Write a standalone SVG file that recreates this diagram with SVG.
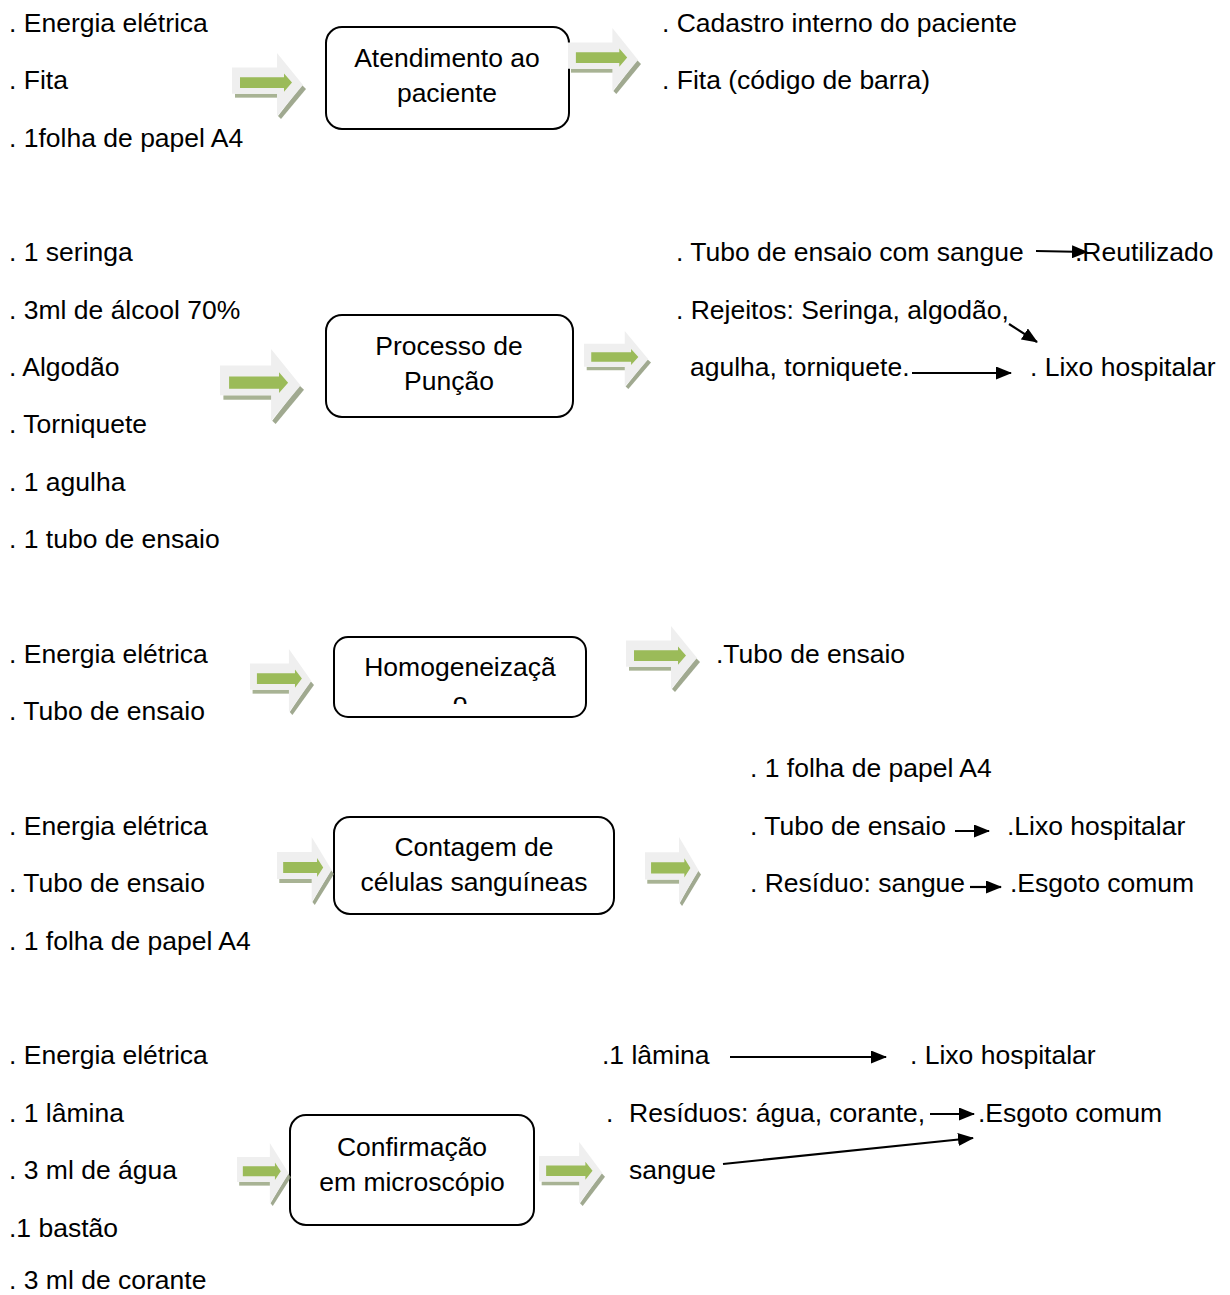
<svg xmlns="http://www.w3.org/2000/svg" xmlns:xlink="http://www.w3.org/1999/xlink" width="1230" height="1295" viewBox="0 0 1230 1295">
  <style>
    text { font-family: "Liberation Sans", Arial, sans-serif; font-size: 26.5px; fill: #000; }
    .mid { text-anchor: middle; }
    .box { fill: #fff; stroke: #000; stroke-width: 2; }
    .link { stroke: #000; stroke-width: 2.2; fill: none; marker-end: url(#head); }
  </style>
  <defs>
    <marker id="head" viewBox="0 0 16 13" refX="15" refY="6.5" markerWidth="16" markerHeight="13" markerUnits="userSpaceOnUse" orient="auto">
      <path d="M0,0 L16,6.5 L0,13 z" fill="#000"/>
    </marker>
    <!-- decorative block arrow: pale body, green core, soft shadow -->
    <symbol id="barrow" viewBox="0 0 74 68" preserveAspectRatio="none">
      <polygon points="70,33 74,37 49,68 46,65" fill="#8f9a7c" opacity="0.85"/>
      <rect x="3" y="42" width="44" height="4" fill="#a8b394"/>
      <polygon points="0,15 45,15 45,0 71,33 45,65 45,42 0,42" fill="#efefef"/>
      <polygon points="8,25 52,25 52,21 60,30.5 52,40 52,36 8,36" fill="#9bbb59"/>
    </symbol>
    <clipPath id="clip3"><rect x="335" y="638" width="250" height="66"/></clipPath>
  </defs>

  <!-- inputs / outputs -->
  <g id="stage1-in">
    <text x="9" y="32">. Energia elétrica</text>
    <text x="9" y="89">. Fita</text>
    <text x="9" y="147">. 1folha de papel A4</text>
  </g>
  <g id="stage1-out">
    <text x="662" y="32">. Cadastro interno do paciente</text>
    <text x="662" y="89">. Fita (código de barra)</text>
  </g>

  <g id="stage2-in">
    <text x="9" y="261">. 1 seringa</text>
    <text x="9" y="319">. 3ml de álcool 70%</text>
    <text x="9" y="376">. Algodão</text>
    <text x="9" y="433">. Torniquete</text>
    <text x="9" y="491">. 1 agulha</text>
    <text x="9" y="548">. 1 tubo de ensaio</text>
  </g>
  <g id="stage2-out">
    <text x="676" y="261">. Tubo de ensaio com sangue</text>
    <text x="1075" y="261">.Reutilizado</text>
    <text x="676" y="319">. Rejeitos: Seringa, algodão,</text>
    <text x="690" y="376">agulha, torniquete.</text>
    <text x="1030" y="376">. Lixo hospitalar</text>
  </g>

  <g id="stage3-in">
    <text x="9" y="663">. Energia elétrica</text>
    <text x="9" y="720">. Tubo de ensaio</text>
  </g>
  <g id="stage3-out">
    <text x="716" y="663">.Tubo de ensaio</text>
  </g>

  <g id="stage4-in">
    <text x="9" y="835">. Energia elétrica</text>
    <text x="9" y="892">. Tubo de ensaio</text>
    <text x="9" y="950">. 1 folha de papel A4</text>
  </g>
  <g id="stage4-out">
    <text x="750" y="777">. 1 folha de papel A4</text>
    <text x="750" y="835">. Tubo de ensaio</text>
    <text x="1007" y="835">.Lixo hospitalar</text>
    <text x="750" y="892">. Resíduo: sangue</text>
    <text x="1010" y="892">.Esgoto comum</text>
  </g>

  <g id="stage5-in">
    <text x="9" y="1064">. Energia elétrica</text>
    <text x="9" y="1122">. 1 lâmina</text>
    <text x="9" y="1179">. 3 ml de água</text>
    <text x="9" y="1237">.1 bastão</text>
    <text x="9" y="1289">. 3 ml de corante</text>
  </g>
  <g id="stage5-out">
    <text x="602" y="1064">.1 lâmina</text>
    <text x="910" y="1064">. Lixo hospitalar</text>
    <text x="606" y="1122">.</text>
    <text x="629" y="1122">Resíduos: água, corante,</text>
    <text x="978" y="1122">.Esgoto comum</text>
    <text x="629" y="1179">sangue</text>
  </g>

  <!-- process boxes -->
  <g id="atendimento">
    <rect class="box" x="326" y="27" width="243" height="102" rx="16"/>
    <text class="mid" x="447" y="67">Atendimento ao</text>
    <text class="mid" x="447" y="102">paciente</text>
  </g>
  <g id="puncao">
    <rect class="box" x="326" y="315" width="247" height="102" rx="16"/>
    <text class="mid" x="449" y="355">Processo de</text>
    <text class="mid" x="449" y="390">Punção</text>
  </g>
  <g id="homogeneizacao">
    <rect class="box" x="334" y="637" width="252" height="80" rx="14"/>
    <g clip-path="url(#clip3)">
      <text class="mid" x="460" y="676">Homogeneizaçã</text>
      <text class="mid" x="460" y="711">o</text>
    </g>
  </g>
  <g id="contagem">
    <rect class="box" x="334" y="817" width="280" height="97" rx="16"/>
    <text class="mid" x="474" y="856">Contagem de</text>
    <text class="mid" x="474" y="891">células sanguíneas</text>
  </g>
  <g id="confirmacao">
    <rect class="box" x="290" y="1115" width="244" height="110" rx="16"/>
    <text class="mid" x="412" y="1156">Confirmação</text>
    <text class="mid" x="412" y="1191">em microscópio</text>
  </g>

  <!-- connectors -->
  <g id="connectors">
    <use href="#barrow" x="232" y="53" width="74" height="66"/>
    <use href="#barrow" x="568" y="28" width="73" height="66"/>
    <use href="#barrow" x="220" y="349" width="84" height="75"/>
    <use href="#barrow" x="584" y="331" width="67" height="58"/>
    <use href="#barrow" x="250" y="649" width="64" height="66"/>
    <use href="#barrow" x="626" y="626" width="74" height="66"/>
    <use href="#barrow" x="277" y="837" width="57" height="68"/>
    <use href="#barrow" x="645" y="837" width="56" height="69"/>
    <use href="#barrow" x="237" y="1143" width="54" height="63"/>
    <use href="#barrow" x="539" y="1142" width="66" height="64"/>

    <line class="link" x1="1036" y1="251" x2="1087" y2="252"/>
    <line class="link" x1="1009" y1="324" x2="1037" y2="342"/>
    <line class="link" x1="912" y1="373" x2="1011" y2="373"/>
    <line class="link" x1="955" y1="831" x2="989" y2="831"/>
    <line class="link" x1="970" y1="887" x2="1001" y2="887"/>
    <line class="link" x1="730" y1="1057" x2="886" y2="1057"/>
    <line class="link" x1="930" y1="1114" x2="974" y2="1114"/>
    <line class="link" x1="723" y1="1164" x2="973" y2="1138"/>
  </g>
</svg>
